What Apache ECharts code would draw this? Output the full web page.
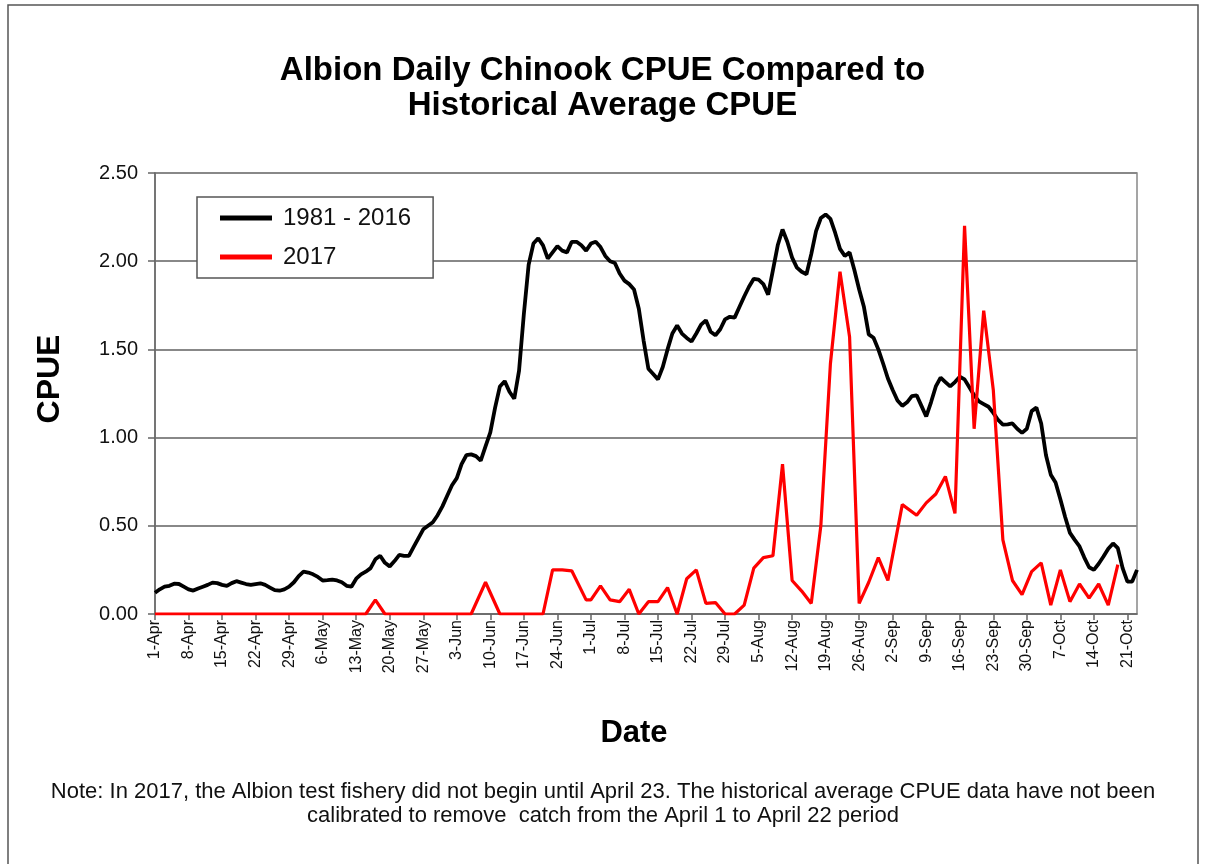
<!DOCTYPE html>
<html>
<head>
<meta charset="utf-8">
<script src="https://cdn.jsdelivr.net/npm/echarts@6/dist/echarts.min.js"></script>
<style>
html,body{margin:0;padding:0;background:#fff;}
#c{width:1205px;height:864px;}
</style>
</head>
<body>
<div id="c"></div>
<script>
// Categories: daily from 1-Apr to 23-Oct
const months = ['Jan','Feb','Mar','Apr','May','Jun','Jul','Aug','Sep','Oct','Nov','Dec'];
const startDate = new Date(2017, 3, 1);
const nDays = 206;
const categories = [];
for (let i = 0; i < nDays; i++) {
  const d = new Date(startDate.getTime() + i * 86400000);
  categories.push(d.getDate() + '-' + months[d.getMonth()]);
}

// 1981 - 2016 historical average CPUE (daily)
const hist = [
0.12,0.14,0.155,0.16,0.172,0.17,0.155,0.14,0.133,0.145,
0.155,0.165,0.178,0.175,0.165,0.159,0.175,0.186,0.178,0.17,
0.165,0.17,0.174,0.165,0.15,0.135,0.132,0.14,0.155,0.18,
0.215,0.24,0.235,0.225,0.21,0.19,0.192,0.195,0.19,0.18,
0.16,0.155,0.2,0.225,0.24,0.26,0.31,0.33,0.29,0.27,
0.3,0.335,0.33,0.33,0.38,0.43,0.48,0.5,0.52,0.56,
0.61,0.67,0.73,0.77,0.85,0.9,0.905,0.895,0.87,0.95,
1.03,1.17,1.29,1.32,1.26,1.22,1.38,1.7,1.98,2.1,
2.13,2.09,2.015,2.05,2.085,2.06,2.05,2.11,2.11,2.09,
2.06,2.1,2.11,2.08,2.03,2.0,1.99,1.93,1.89,1.87,
1.84,1.73,1.55,1.39,1.36,1.33,1.4,1.5,1.59,1.635,
1.59,1.565,1.545,1.59,1.64,1.665,1.6,1.58,1.614,1.67,
1.685,1.68,1.74,1.8,1.855,1.9,1.895,1.87,1.81,1.95,
2.09,2.18,2.11,2.02,1.964,1.94,1.926,2.04,2.17,2.245,
2.265,2.24,2.16,2.07,2.03,2.05,1.95,1.84,1.74,1.585,
1.566,1.5,1.42,1.335,1.27,1.21,1.18,1.2,1.235,1.24,
1.18,1.12,1.2,1.29,1.34,1.315,1.29,1.315,1.345,1.33,
1.285,1.24,1.205,1.19,1.175,1.14,1.1,1.074,1.075,1.08,
1.05,1.027,1.05,1.15,1.17,1.08,0.9,0.79,0.745,0.65,
0.55,0.46,0.42,0.383,0.32,0.265,0.25,0.285,0.326,0.37,
0.4,0.373,0.26,0.184,0.184,0.25
];

// 2017 CPUE: observed days (day index from 1-Apr) and values
const obsDay = [0,44,46,48,66,69,72,81,83,85,87,90,91,93,95,97,99,101,103,105,107,109,111,113,115,117,119,121,123,125,127,129,131,133,135,137,139,141,143,145,147,149,151,153,156,159,161,163,165,167,169,171,173,175,177,179,181,183,185,187,189,191,193,195,197,199,201];
const obsVal = [0,0,0.08,0,0,0.18,0,0,0.25,0.25,0.245,0.08,0.08,0.16,0.08,0.07,0.14,0.0,0.07,0.07,0.15,0.0,0.2,0.25,0.06,0.065,0,0,0.05,0.26,0.32,0.33,0.85,0.19,0.13,0.06,0.5,1.42,1.94,1.57,0.06,0.18,0.32,0.19,0.62,0.56,0.63,0.68,0.78,0.57,2.2,1.05,1.72,1.27,0.42,0.19,0.11,0.24,0.29,0.05,0.25,0.07,0.17,0.09,0.17,0.05,0.28];

const yTicks = [0, 0.5, 1.0, 1.5, 2.0, 2.5];

const cur = new Array(nDays).fill(null);
obsDay.forEach((d, i) => { cur[d] = obsVal[i]; });

const chart = echarts.init(document.getElementById('c'));
const FONT = '"Liberation Sans", Arial, sans-serif';
chart.setOption({
  animation: false,
  backgroundColor: '#fff',
  textStyle: { fontFamily: FONT },
  title: {
    text: 'Albion Daily Chinook CPUE Compared to\nHistorical Average CPUE',
    left: 'center', top: 53, padding: 0,
    textStyle: { fontFamily: FONT, fontSize: 33, fontWeight: 'bold', color: '#000', lineHeight: 35 }
  },
  graphic: [
    { type: 'rect', shape: { x: 8, y: 5, width: 1190, height: 900 }, style: { fill: 'none', stroke: '#555', lineWidth: 1.5 }, silent: true },
    { type: 'text', x: 50, y: 379, rotation: Math.PI / 2, style: {
      text: 'CPUE', font: 'bold 32px "Liberation Sans", Arial, sans-serif', fill: '#000',
      textAlign: 'center', textVerticalAlign: 'middle' } },
    { type: 'text', x: 634, y: 733, style: {
      text: 'Date', font: 'bold 31px "Liberation Sans", Arial, sans-serif', fill: '#000',
      textAlign: 'center', textVerticalAlign: 'middle' } },
    { type: 'text', x: 603, y: 780, style: {
      text: 'Note: In 2017, the Albion test fishery did not begin until April 23. The historical average CPUE data have not been\ncalibrated to remove  catch from the April 1 to April 22 period',
      font: '22px "Liberation Sans", Arial, sans-serif', fill: '#111', textAlign: 'center', lineHeight: 24 } }
  ],
  legend: {
    orient: 'vertical', left: 197, top: 197,
    backgroundColor: '#fff', borderColor: '#555', borderWidth: 1.5,
    padding: [8, 22, 8, 23], itemGap: 13,
    itemWidth: 52, itemHeight: 5, icon: 'rect',
    textStyle: { fontFamily: FONT, fontSize: 24, color: '#111', lineHeight: 26, padding: [0, 0, 0, 6] },
    data: ['1981 - 2016', '2017']
  },
  grid: { left: 155, right: 68, top: 173, bottom: 250, show: true, borderColor: '#888', borderWidth: 1.5 },
  xAxis: {
    type: 'category', data: categories, boundaryGap: false,
    axisLine: { lineStyle: { color: '#666', width: 1.5 } },
    axisTick: { show: true, interval: 6, length: 6, lineStyle: { color: '#666', width: 1.5 } },
    axisLabel: { interval: 6, rotate: 90, fontSize: 16, color: '#111', margin: 6, fontFamily: FONT },
    splitLine: { show: false }
  },
  yAxis: {
    type: 'value', min: 0, max: 2.5, interval: 0.5,
    axisLine: { show: true, lineStyle: { color: '#666', width: 1.5 } },
    axisTick: { show: true, length: 7, lineStyle: { color: '#666', width: 1.5 } },
    axisLabel: { fontSize: 20, color: '#111', margin: 17, fontFamily: FONT, formatter: v => v.toFixed(2) },
    splitLine: { show: true, lineStyle: { color: '#888', width: 2 } }
  },
  series: [
    { name: '1981 - 2016', type: 'line', data: hist, showSymbol: false, symbol: 'none',
      lineStyle: { color: '#000', width: 3.8 }, itemStyle: { color: '#000' }, z: 3 },
    { name: '2017', type: 'line', data: cur, connectNulls: true, showSymbol: false, symbol: 'none',
      lineStyle: { color: '#ff0000', width: 3.2 }, itemStyle: { color: '#ff0000' }, z: 4 }
  ]
});
</script>
</body>
</html>
